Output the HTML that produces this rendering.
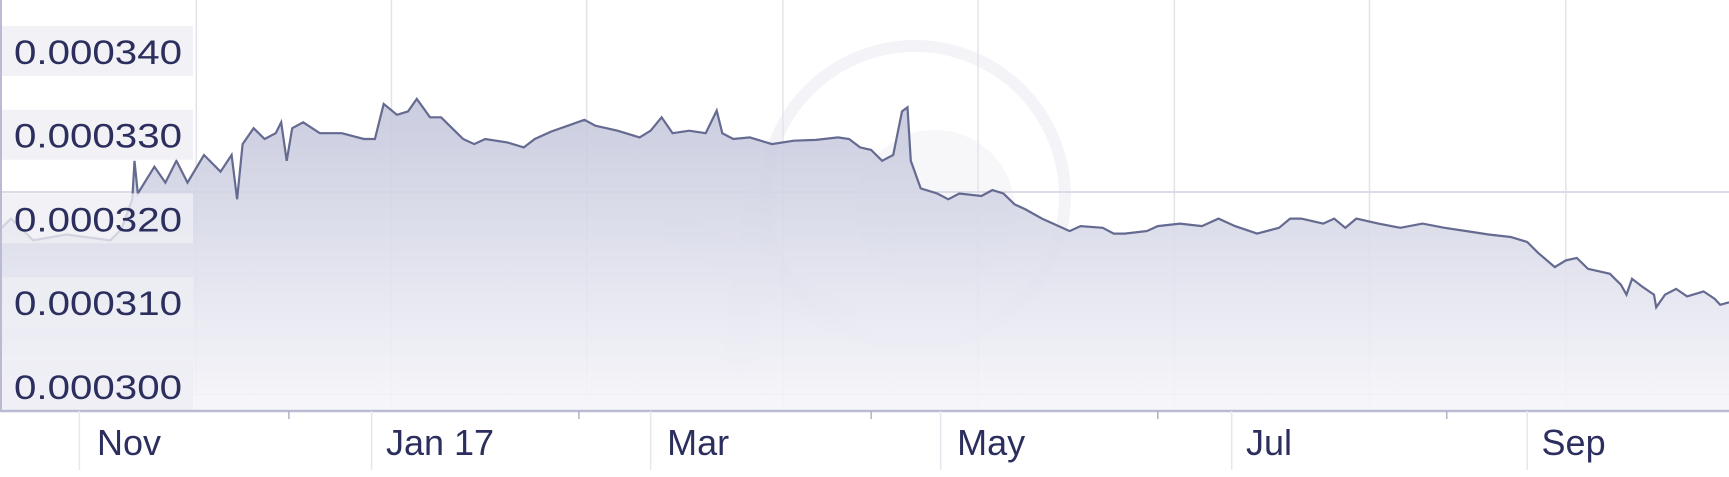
<!DOCTYPE html>
<html><head><meta charset="utf-8"><style>
body{margin:0;width:1729px;height:477px;background:#fff;overflow:hidden;font-family:"Liberation Sans",sans-serif}
svg{display:block}
</style></head><body>
<svg id="chart" width="1729" height="477" viewBox="0 0 1729 477">
<defs><linearGradient id="fillg" x1="0" y1="0" x2="0" y2="1">
<stop offset="0" stop-color="#c4c7dc"/><stop offset="1" stop-color="#f6f6fa"/></linearGradient></defs>
<g id="watermark" opacity="0.45">
<circle cx="915" cy="196" r="150" fill="none" stroke="#e6e6ef" stroke-width="12"/>
<circle cx="935" cy="210" r="80" fill="#dcdde9" opacity="0.5"/>
<path d="M680 230 L840 320 M760 200 L740 360" stroke="#dcdde9" stroke-width="34" stroke-linecap="round" opacity="0.5"/>
</g>
<g id="grid"></g>
<path id="area" fill="url(#fillg)" opacity="0.9"/>
<path id="line" fill="none" stroke="#656a90" stroke-width="2.2"/>
<g id="yaxis"></g>
<g id="xaxis"></g>
</svg>
<script>
const tPos=[0,10,30,60,100,110,120,122,125,140,150,160,170,185,200,210,215,220,230,240,250,255,260,265,275,290,310,330,340,348,360,370,378,390,400,410,420,430,440,460,475,485,500,515,530,540,560,580,590,600,610,625,640,650,655,665,680,700,720,740,760,770,780,790,800,810,818,823,826,835,850,860,870,890,900,910,920,930,945,955,970,980,1000,1010,1020,1040,1050,1070,1090,1105,1120,1140,1160,1170,1180,1200,1210,1220,1230,1250,1270,1290,1310,1330,1350,1370,1385,1395,1410,1420,1430,1440,1460,1470,1475,1480,1490,1500,1502,1510,1520,1530,1545,1555,1560,1568];
const rates=[318.8,320.1,317.5,318.2,317.5,318.8,322.4,327.0,323.1,326.3,324.4,327.0,324.4,327.7,325.7,327.7,322.4,329.0,330.9,329.6,330.3,331.6,327.0,330.9,331.6,330.3,330.3,329.6,329.6,333.8,332.5,332.9,334.4,332.2,332.2,330.9,329.6,329.0,329.6,329.2,328.6,329.6,330.5,331.2,331.9,331.2,330.6,329.8,330.6,332.2,330.3,330.6,330.3,333.0,330.3,329.6,329.8,329.0,329.4,329.5,329.8,329.6,328.6,328.3,327.0,327.7,332.9,333.4,327.0,323.7,323.1,322.4,323.1,322.8,323.5,323.1,321.8,321.2,320.1,319.5,318.6,319.2,319.0,318.3,318.3,318.6,319.2,319.5,319.2,320.1,319.2,318.3,319.0,320.1,320.1,319.5,320.1,319.0,320.1,319.5,319.0,319.5,319.0,318.6,318.2,317.9,317.3,316.0,314.3,315.1,315.4,314.1,313.5,312.2,311.0,312.9,311.9,311.0,309.5,311.0,311.7,310.8,311.4,310.5,309.8,310.1];
const yTicks=[0.000340,0.000330,0.000320,0.000310,0.000300];
const yTickLabels=["0.000340","0.000330","0.000320","0.000310","0.000300"];
const xLabels=["Nov","Jan 17","Mar","May","Jul","Sep"];
const xLabelPos=[88,350,605,868,1130,1398];
const xSepPos=[72,337,590,853,1117,1385];
const xMinorPos=[262,525,790,1050,1312];
const xGridPos=[178,355,532,710,887,1065,1242,1420];

const NS="http://www.w3.org/2000/svg";
function X(t){return t*1729/1568;}
function Y(v){return 52+(340-v)*8.37;}
function mk(tag,attrs,parent){const e=document.createElementNS(NS,tag);for(const k in attrs)e.setAttribute(k,attrs[k]);parent.appendChild(e);return e;}
const grid=document.getElementById('grid'),ya=document.getElementById('yaxis'),xa=document.getElementById('xaxis');
xGridPos.forEach(t=>{const l=mk('line',{x1:X(t),x2:X(t),y1:0,y2:411,stroke:'#e3e3ea','stroke-width':1.5},grid);

});
[192,394].forEach(y=>{const l=mk('line',{x1:0,x2:1729,y1:y,y2:y,stroke:'#dcdce6','stroke-width':2},grid);

});
let d='';tPos.forEach((t,i)=>{d+=(i?'L':'M')+X(t).toFixed(1)+','+Y(rates[i]).toFixed(1);});
document.getElementById('line').setAttribute('d',d);
document.getElementById('area').setAttribute('d',d+'L'+X(tPos[tPos.length-1])+',411L0,411Z');
yTicks.forEach((v,i)=>{const yy=Y(v*1e6);
const r=mk('rect',{x:0,y:yy-26,width:193,height:50,fill:'#ededf4',opacity:0.8},ya);


const tx=mk('text',{x:14,y:yy+12,'font-size':34,fill:'#2c2f5e',textLength:168,lengthAdjust:'spacingAndGlyphs'},ya);tx.textContent=yTickLabels[i];

});
const ax=mk('line',{x1:0,x2:1729,y1:411,y2:411,stroke:'#b9bbd3','stroke-width':2.5},xa);


const lax=mk('line',{x1:1,x2:1,y1:0,y2:411,stroke:'#b9bbd3','stroke-width':2},xa);


xSepPos.forEach(t=>{const l=mk('line',{x1:X(t),x2:X(t),y1:411,y2:470,stroke:'#e6e6ee','stroke-width':1.5},xa);

});
xMinorPos.forEach(t=>{const l=mk('line',{x1:X(t),x2:X(t),y1:411,y2:419,stroke:'#b0b2c8','stroke-width':1.5},xa);

});
xLabels.forEach((s,i)=>{const tx=mk('text',{x:X(xLabelPos[i]),y:455,'font-size':36,fill:'#2c2f5e'},xa);tx.textContent=s;

});
</script>
</body></html>
